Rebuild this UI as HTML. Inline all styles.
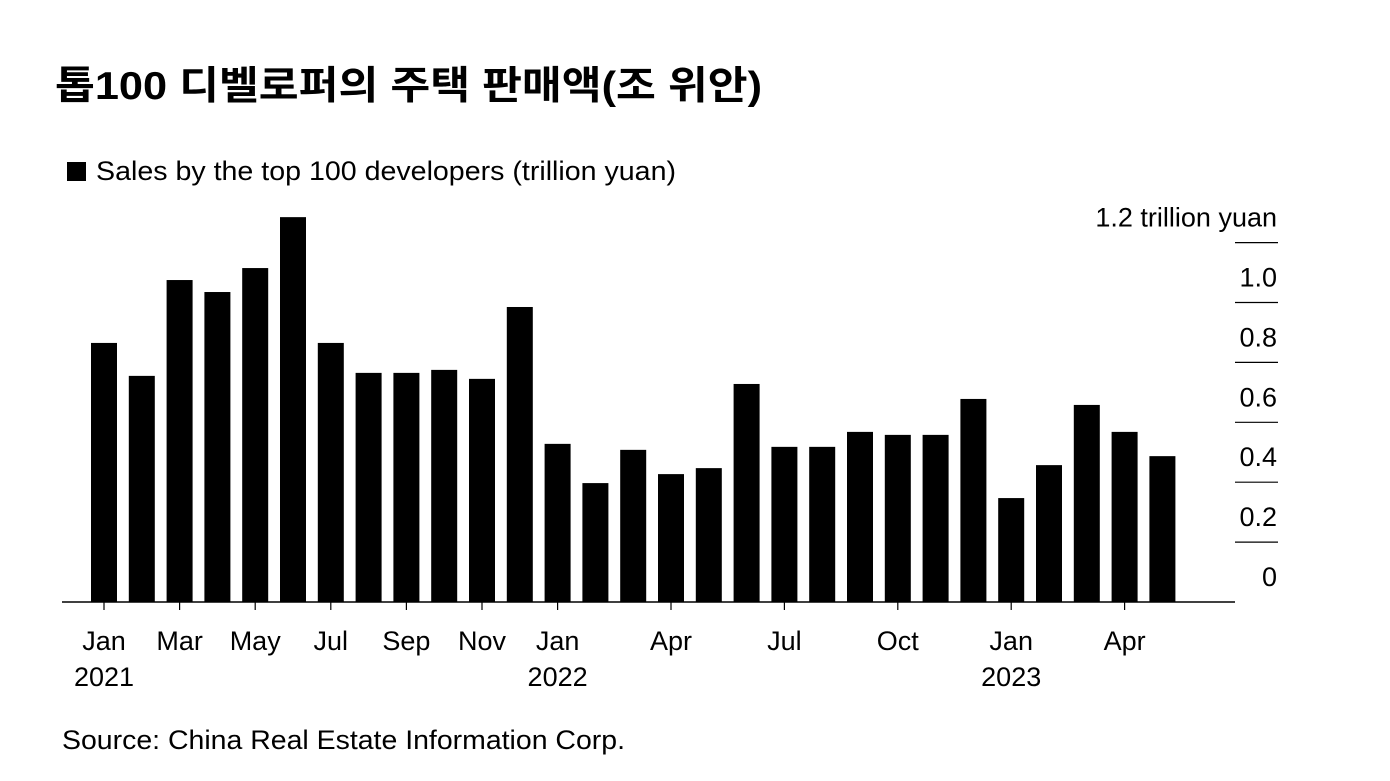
<!DOCTYPE html>
<html><head><meta charset="utf-8"><style>
body{margin:0;background:#fff;width:1390px;height:776px;overflow:hidden;font-family:"Liberation Sans","Noto Sans CJK KR",sans-serif;}
</style></head><body>
<svg width="1390" height="776" xmlns="http://www.w3.org/2000/svg" font-family="Liberation Sans, Noto Sans CJK KR, sans-serif">
<text x="55" y="99" font-size="39" font-weight="bold" fill="#000" textLength="707" lengthAdjust="spacingAndGlyphs">톱100 디벨로퍼의 주택 판매액(조 위안)</text>
<rect x="67" y="162" width="19" height="19" fill="#000"/>
<text x="96" y="180" font-size="27" fill="#000" textLength="580" lengthAdjust="spacingAndGlyphs">Sales by the top 100 developers (trillion yuan)</text>
<g id="grid"></g><g id="bars"></g><g id="xaxis"></g>
<text x="62" y="749" font-size="27" fill="#000" textLength="563" lengthAdjust="spacingAndGlyphs">Source: China Real Estate Information Corp.</text>
</svg>
<script>
const categories=["Jan21","Feb21","Mar21","Apr21","May21","Jun21","Jul21","Aug21","Sep21","Oct21","Nov21","Dec21","Jan22","Feb22","Mar22","Apr22","May22","Jun22","Jul22","Aug22","Sep22","Oct22","Nov22","Dec22","Jan23","Feb23","Mar23","Apr23","May23"];
const sales=[0.865,0.755,1.075,1.035,1.115,1.285,0.865,0.765,0.765,0.775,0.745,0.985,0.528,0.397,0.508,0.427,0.447,0.728,0.518,0.518,0.568,0.558,0.558,0.678,0.347,0.457,0.658,0.568,0.487];
const yTicks=[0,0.2,0.4,0.6,0.8,1.0,1.2];
const yTickLabels=["0","0.2","0.4","0.6","0.8","1.0","1.2 trillion yuan"];
const xTickIdx=[0,2,4,6,8,10,12,15,18,21,24,27];
const xTickLabels=["Jan","Mar","May","Jul","Sep","Nov","Jan","Apr","Jul","Oct","Jan","Apr"];
const yearIdx=[0,12,24];
const yearLabels=["2021","2022","2023"];
const NS="http://www.w3.org/2000/svg";
const y0=602,pxPerUnit=299.5;
const y=v=>y0-v*pxPerUnit;
const xStart=91,step=37.8,bw=26;
const x=i=>xStart+i*step;
function mk(t,a,p){const e=document.createElementNS(NS,t);for(const k in a)e.setAttribute(k,a[k]);p.appendChild(e);return e;}
const grid=document.getElementById('grid'),bars=document.getElementById('bars'),xa=document.getElementById('xaxis');
yTicks.forEach((v,i)=>{
 if(v>0){const l=mk('line',{x1:1235,x2:1278,y1:y(v),y2:y(v),stroke:'#000','stroke-width':1.2},grid);
 
 }
 const t=mk('text',{x:1277,y:y(v)-16,'font-size':27,'text-anchor':'end',fill:'#000'},grid);
 t.textContent=yTickLabels[i];
 
 
});
sales.forEach((v,i)=>{
 const r=mk('rect',{x:x(i),y:y(v),width:bw,height:y0-y(v),fill:'#000'},bars);
 
 
});
const ax=mk('line',{x1:62,x2:1235,y1:y0,y2:y0,stroke:'#000','stroke-width':1.5},xa);


xTickIdx.forEach((idx,i)=>{
 const cx=x(idx)+bw/2;
 const tk=mk('line',{x1:cx,x2:cx,y1:y0,y2:y0+8,stroke:'#000','stroke-width':1.2},xa);
 
 
 const t=mk('text',{x:cx,y:650,'font-size':27,'text-anchor':'middle',fill:'#000'},xa);
 t.textContent=xTickLabels[i];
 
 
});
yearIdx.forEach((idx,i)=>{
 const t=mk('text',{x:x(idx)+bw/2,y:686,'font-size':27,'text-anchor':'middle',fill:'#000'},xa);
 t.textContent=yearLabels[i];
 
 
});
</script>
</body></html>
